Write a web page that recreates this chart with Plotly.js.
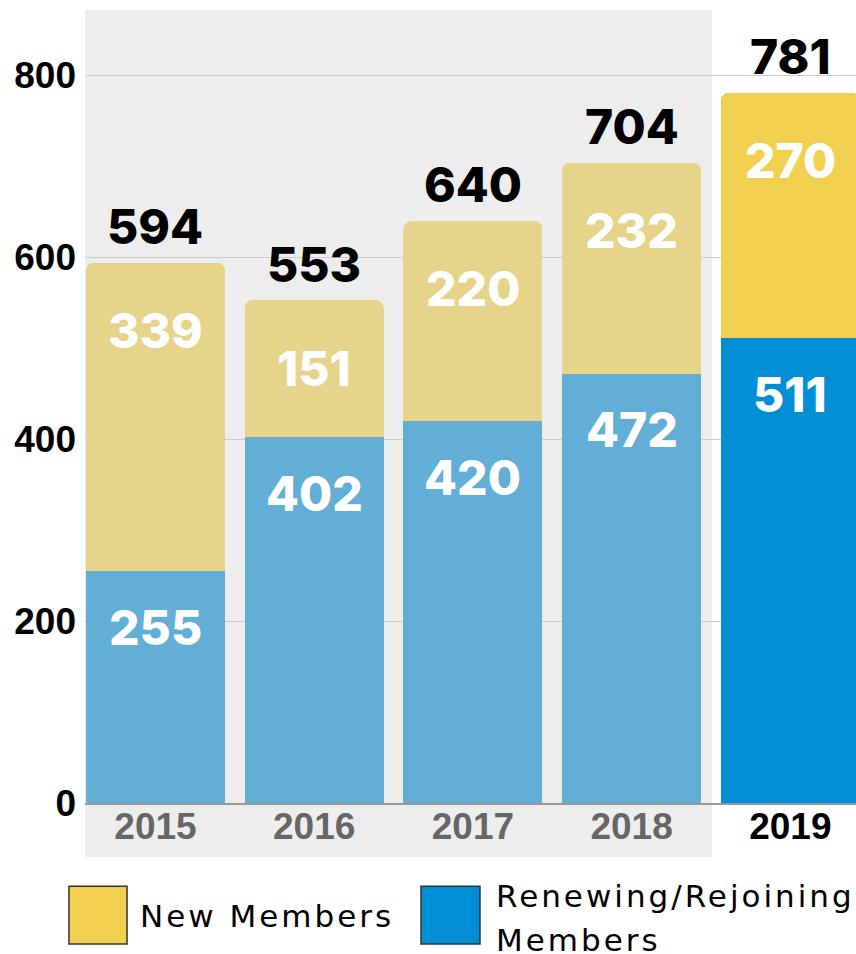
<!DOCTYPE html>
<html>
<head>
<meta charset="utf-8">
<script src="https://cdn.plot.ly/plotly-3.0.1.min.js"></script>
<style>
html,body{margin:0;padding:0;background:#fff;overflow:hidden;}
#chart{width:856px;height:954px;}
.legend-spaced text{letter-spacing:3px;}
</style>
</head>
<body>
<div id="chart"></div>
<script>
// ---- data ----
var years = ["2015", "2016", "2017", "2018", "2019"];
var renewingMembers = [255, 402, 420, 472, 511];
var newMembers = [339, 151, 220, 232, 270];
var totals = [594, 553, 640, 704, 781];
var yTickVals = [0, 200, 400, 600, 800];
var yTickText = ["0", "200", "400", "600", "800"];
var legendNames = ["New Members", "Renewing/Rejoining", "Members"];

// ---- styles ----
var yellowPast = "#E6D48B", yellowNow = "#F2D04F";
var bluePast = "#62AED6", blueNow = "#008FD5";
var yellowColors = years.map(function (y, i) { return i === years.length - 1 ? yellowNow : yellowPast; });
var blueColors = years.map(function (y, i) { return i === years.length - 1 ? blueNow : bluePast; });
var tickText = years.map(function (y, i) {
  return i === years.length - 1 ? '<span style="fill:#000000">' + y + '</span>' : y;
});

var labelFamily = "Inter, 'Open Sans', sans-serif";

var traces = [
  { type: "bar", x: years, y: renewingMembers, name: "Renewing/Rejoining Members",
    marker: { color: blueColors, line: { width: 0 } }, hoverinfo: "skip" },
  { type: "bar", x: years, y: newMembers, name: "New Members",
    marker: { color: yellowColors, line: { width: 0 } }, hoverinfo: "skip" }
];

var annotations = [];
years.forEach(function (yr, i) {
  annotations.push({ x: i, y: totals[i], xref: "x", yref: "y", text: String(totals[i]),
    showarrow: false, yanchor: "middle", xanchor: "center", yshift: 36,
    font: { family: labelFamily, size: 48, color: "#000000", weight: 800 } });
  annotations.push({ x: i, y: renewingMembers[i] + newMembers[i], xref: "x", yref: "y",
    text: String(newMembers[i]), showarrow: false, yanchor: "middle", xanchor: "center", yshift: -68,
    font: { family: labelFamily, size: 48, color: "#FFFFFF", weight: 800 } });
  annotations.push({ x: i, y: renewingMembers[i], xref: "x", yref: "y",
    text: String(renewingMembers[i]), showarrow: false, yanchor: "middle", xanchor: "center", yshift: -56,
    font: { family: labelFamily, size: 48, color: "#FFFFFF", weight: 800 } });
});

var legendFont = { family: "'DejaVu Sans', sans-serif", size: 31, color: "#000000" };
annotations.push({ xref: "paper", yref: "paper", x: 0.0687, y: -0.1425, text: legendNames[0],
  showarrow: false, xanchor: "left", align: "left", yanchor: "middle", font: legendFont });
annotations.push({ xref: "paper", yref: "paper", x: 0.5302, y: -0.1173, text: legendNames[1],
  showarrow: false, xanchor: "left", align: "left", yanchor: "middle", font: legendFont });
annotations.push({ xref: "paper", yref: "paper", x: 0.5302, y: -0.1725, text: legendNames[2],
  showarrow: false, xanchor: "left", align: "left", yanchor: "middle", font: legendFont });

var shapes = [
  { type: "rect", xref: "paper", yref: "paper", x0: 0, x1: 0.8132, y0: -0.0681, y1: 1,
    fillcolor: "#EDEDED", line: { width: 0 }, layer: "below" },
  { type: "rect", xref: "paper", yref: "paper", x0: -0.0208, x1: 0.0545, y0: -0.1051, y1: -0.1778,
    fillcolor: yellowNow, line: { color: "#333333", width: 1.5 }, layer: "above" },
  { type: "rect", xref: "paper", yref: "paper", x0: 0.4358, x1: 0.5123, y0: -0.1051, y1: -0.1778,
    fillcolor: blueNow, line: { color: "#333333", width: 1.5 }, layer: "above" }
];

var layout = {
  width: 856, height: 954,
  margin: { l: 85, r: 0, t: 10, b: 151, pad: 0 },
  paper_bgcolor: "#FFFFFF", plot_bgcolor: "rgba(0,0,0,0)",
  barmode: "stack", bargap: 0.124, barcornerradius: 8,
  showlegend: false,
  xaxis: {
    type: "category", range: [-0.444, 4.414], tickmode: "array", tickvals: years, ticktext: tickText,
    showgrid: false, showline: true, linecolor: "#999999", linewidth: 1.5, ticks: "",
    tickfont: { family: "'Liberation Sans', Arial, sans-serif", size: 37, color: "#666666", weight: 700 },
    ticklabelstandoff: -10, fixedrange: true
  },
  yaxis: {
    range: [0, 872], tickmode: "array", tickvals: yTickVals, ticktext: yTickText,
    showgrid: true, gridcolor: "#CCCCCC", gridwidth: 1, zeroline: false, showline: false, ticks: "",
    tickfont: { family: "'Liberation Sans', Arial, sans-serif", size: 37, color: "#000000", weight: 700 },
    ticklabelstandoff: 8, fixedrange: true
  },
  shapes: shapes,
  annotations: annotations
};

Plotly.newPlot("chart", traces, layout, { displayModeBar: false, staticPlot: true }).then(function (gd) {
  var n = annotations.length;
  for (var k = n - 3; k < n; k++) {
    var el = gd.querySelector('.annotation[data-index="' + k + '"]');
    if (el) el.classList.add("legend-spaced");
  }
});
</script>
</body>
</html>
